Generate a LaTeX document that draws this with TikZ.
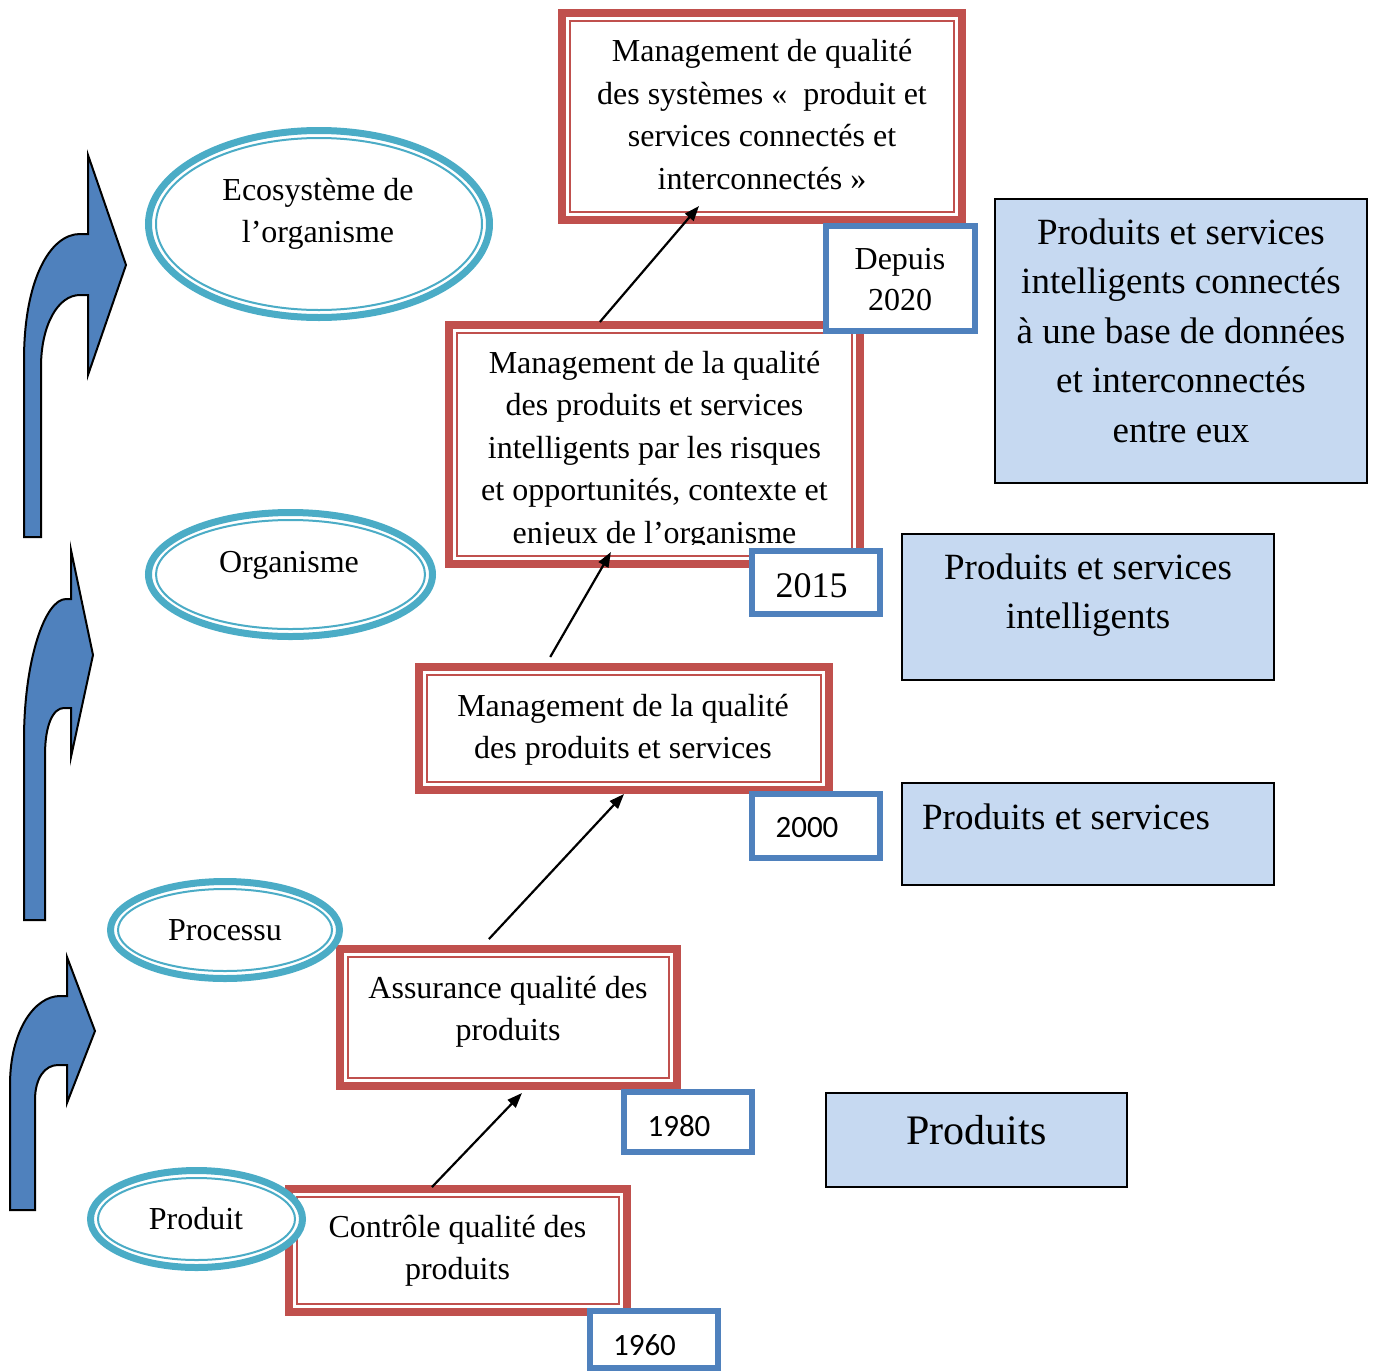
\documentclass[tikz,border=0pt]{standalone}
\usepackage{fontspec}
\setmainfont{Liberation Serif}
\newfontfamily\calib{Carlito}
\usetikzlibrary{shapes.geometric,arrows.meta,calc}
\definecolor{redc}{HTML}{C0504D}
\definecolor{bluec}{HTML}{4F81BD}
\definecolor{lightb}{HTML}{C6D9F1}
\definecolor{cyanc}{HTML}{4BACC6}
\begin{document}
\begin{tikzpicture}[x=1pt,y=-1pt,
  redbox/.style={draw=redc, line width=8pt, fill=white, outer sep=0pt, inner sep=0pt},
  redinner/.style={draw=redc, line width=2pt},
  yearbox/.style={draw=bluec, line width=6pt, fill=white, outer sep=0pt, inner sep=0pt},
  infobox/.style={draw=black, line width=2pt, fill=lightb, outer sep=0pt, inner sep=0pt},
  oval/.style={ellipse, draw=cyanc, line width=7pt, fill=white, inner sep=0pt, outer sep=0pt},
  ovalinner/.style={draw=cyanc, line width=2pt},
  txt/.style={font=\fontsize{32}{42.5}\selectfont, align=center, inner sep=0pt},
  bigtxt/.style={font=\fontsize{37}{49.5}\selectfont, align=center, inner sep=0pt},
  yeartxt/.style={font=\calib\fontsize{31}{36}\selectfont, inner sep=0pt},
  link/.style={draw=black, line width=2.2pt, -{Triangle[length=15pt,width=11pt]}},
  bent/.style={fill=bluec, draw=black, line width=2pt, line join=miter},
]
\useasboundingbox (0,0) rectangle (1375,1371);

% red boxes
\node[redbox, minimum width=400pt, minimum height=207pt] (r2020) at (762,116.5) {};
\node[redbox, minimum width=411pt, minimum height=239pt] (r2015) at (654.5,444.5) {};
\node[redbox, minimum width=410pt, minimum height=123pt] (r2000) at (624,728.5) {};
\node[redbox, minimum width=337pt, minimum height=137pt] (r1980) at (508.5,1017.5) {};
\node[redbox, minimum width=338pt, minimum height=123pt] (r1960) at (458,1250.5) {};

\node[txt] (t2020) at (762,114.5) {Management de qualité\\des systèmes «\ \ produit et\\services connectés et\\interconnectés »};
\node[txt] (t2015) at (654.5,450.5) {Management de la qualité\\des produits et services\\intelligents par les risques\\et opportunités, contexte et\\enjeux de l’organisme};
\node[txt] (t2000) at (623,730) {Management de la qualité\\des produits et services};
\node[txt] (t1980) at (508,1012) {Assurance qualité des\\produits};
\node[txt] (t1960) at (457.5,1251) {Contrôle qualité des\\produits};
% clipped descenders of the last line
\fill[white] (458,545) rectangle (851,555);

\foreach \n in {r2020,r2015,r2000,r1980,r1960}{
  \draw[redinner] ([shift={(8pt,-8pt)}]\n.north west) rectangle ([shift={(-8pt,8pt)}]\n.south east);
}

% ellipses
\node[oval, minimum width=341pt, minimum height=187pt] (e1) at (319,224) {};
\node[oval, minimum width=284pt, minimum height=124pt] (e2) at (290.5,574.5) {};
\node[oval, minimum width=229pt, minimum height=97pt] (e3) at (225,930) {};
\node[oval, minimum width=212pt, minimum height=97pt] (e4) at (196.5,1219) {};
\draw[ovalinner] (e1.center) ellipse [x radius=163pt, y radius=86pt];
\draw[ovalinner] (e2.center) ellipse [x radius=134.5pt, y radius=54.5pt];
\draw[ovalinner] (e3.center) ellipse [x radius=107pt, y radius=41pt];
\draw[ovalinner] (e4.center) ellipse [x radius=98.5pt, y radius=41pt];
\node[txt] (te1) at (318,214) {Ecosystème de\\l’organisme};
\node[txt] (te2) at (289,565) {Organisme};
\node[txt] (te3) at (225,930) {Processu};
\node[txt] (te4) at (196,1219) {Produit};

% year boxes
\node[yearbox, minimum width=149pt, minimum height=105pt] (y2020) at (900.5,278.5) {};
\node[yearbox, minimum width=128pt, minimum height=63pt] (y2015) at (816,582.5) {};
\node[yearbox, minimum width=128pt, minimum height=64pt] (y2000) at (816,826) {};
\node[yearbox, minimum width=128pt, minimum height=60pt] (y1980) at (688,1122) {};
\node[yearbox, minimum width=128pt, minimum height=57pt] (y1960) at (654,1339.5) {};
\node[font=\fontsize{32}{41}\selectfont, align=center, inner sep=0pt] (ty2020) at (900,280) {Depuis\\2020};
\node[font=\fontsize{36}{40}\selectfont, inner sep=0pt] (ty2015) at (811.5,586) {2015};
\node[yeartxt] (ty2000) at (807,828) {2000};
\node[yeartxt] (ty1980) at (679,1126) {1980};
\node[yeartxt] (ty1960) at (644.5,1345) {1960};

% info boxes
\node[infobox, minimum width=372pt, minimum height=284pt] (i1) at (1181,341) {};
\node[infobox, minimum width=372pt, minimum height=146pt] (i2) at (1088,607) {};
\node[infobox, minimum width=372pt, minimum height=102pt] (i3) at (1088,834) {};
\node[infobox, minimum width=301pt, minimum height=94pt] (i4) at (976.5,1140) {};
\node[bigtxt] (ti1) at (1181,330.5) {Produits et services\\intelligents connectés\\à une base de données\\et interconnectés\\entre eux};
\node[bigtxt] (ti2) at (1088,595) {Produits et services\\intelligents};
\node[bigtxt] (ti3) at (1066,817) {Produits et services};
\node[font=\fontsize{42}{50}\selectfont, inner sep=0pt] (ti4) at (976.5,1130) {Produits};

% connectors
\draw[link] ($(r1960.north west)!0.423!(r1960.north east)+(0,-2)$) -- ($(r1980.south west)!0.54!(r1980.south east)+(0,7)$);
\draw[link] ($(r1980.north west)!0.442!(r1980.north east)+(0,-10)$) -- ($(r2000.south west)!0.5!(r2000.south east)+(0,4)$);
\draw[link] ($(r2000.north west)!0.32!(r2000.north east)+(0,-10)$) -- ($(r2015.south west)!0.394!(r2015.south east)+(0,-12)$);
\draw[link] ($(r2015.north west)!0.367!(r2015.north east)+(0,-3)$) -- ($(r2020.south west)!0.3425!(r2020.south east)+(0,-14)$);

% bent arrows
\draw[bent] (24,537) -- (24,360) .. controls (24,280) and (50,234) .. (80,234) -- (88,234) -- (88,155) -- (126,265) -- (88,375) -- (88,295) -- (80,295) .. controls (58,295) and (41,325) .. (41,367) -- (41,537) -- cycle;
\draw[bent] (24,920) -- (24,740) .. controls (24,660) and (45,599) .. (66,599) -- (71,599) -- (71,550) -- (93,655) -- (71,757) -- (71,708) -- (64,708) .. controls (53,708) and (45,725) .. (45,755) -- (45,920) -- cycle;
\draw[bent] (10,1210) -- (10,1085) .. controls (10,1030) and (35,996) .. (60,996) -- (67,996) -- (67,957) -- (95,1031) -- (67,1103) -- (67,1065) -- (58,1065) .. controls (45,1065) and (35,1078) .. (35,1100) -- (35,1210) -- cycle;
\end{tikzpicture}
\end{document}
